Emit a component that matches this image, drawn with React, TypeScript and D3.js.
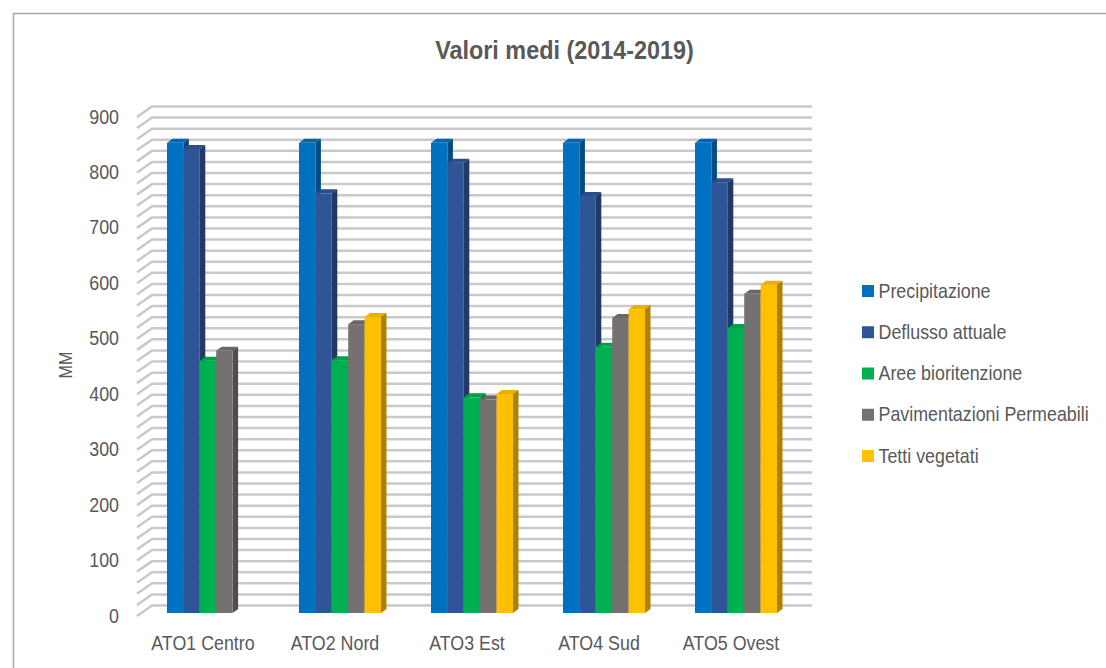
import React from 'react';
import * as d3 from 'd3';

const categories = ['ATO1 Centro', 'ATO2 Nord', 'ATO3 Est', 'ATO4 Sud', 'ATO5 Ovest'];
const seriesNames = ['Precipitazione', 'Deflusso attuale', 'Aree bioritenzione', 'Pavimentazioni Permeabili', 'Tetti vegetati'];
const precipitazione = [848, 848, 848, 848, 848];
const deflusso = [837, 757, 812, 752, 777];
const bioritenzione = [455, 456, 389, 480, 514];
const pavimentazioni = [473, 521, 385, 532, 576];
const tetti = [0, 534, 395, 548, 592];
const seriesValues = [precipitazione, deflusso, bioritenzione, pavimentazioni, tetti];
const colors = ['#0070c0', '#2f5597', '#00b050', '#767171', '#ffc000'];
const ticks = d3.range(0, 901, 100);
const gridTicks = d3.range(0, 901, 20);

const font = '"Liberation Sans", Arial, sans-serif';
const textColor = '#595959';

// front edge of the 3D floor/wall, bars stand a little behind it
const y = d3.scaleLinear().domain([0, 900]).range([616, 117]);
const x0 = d3.scaleBand().domain(categories).range([167, 777]).paddingInner(0.379).paddingOuter(0);
const x1 = d3.scaleBand().domain(seriesNames).range([0, x0.bandwidth()]);

const wallDx = 15;
const wallDy = 10.5;
const barInset = 3;
const barDx = 5.5;
const barDy = 4;

function shade(c: string, k: number) {
  return d3.rgb(c).darker(k).formatHex();
}

// no condensed font installed, so squeeze the regular one
function Label({ x, y, anchor = 'start', size = 21, sx = 0.85, weight = 'normal', children }: any) {
  return (
    <text
      transform={`translate(${x},${y}) scale(${sx},1)`}
      textAnchor={anchor}
      fontFamily={font}
      fontSize={size}
      fontWeight={weight}
      fill={textColor}
    >
      {children}
    </text>
  );
}

export default function App() {
  return (
    <svg width={1106} height={668} style={{ position: 'absolute', left: 0, top: 0, background: '#fff' }}>
      <path d="M13.5,668V13.5H1106" fill="none" stroke="#a6a6a6" strokeWidth={1.5} />
      <Label x={564.5} y={59} anchor="middle" size={26} sx={0.9} weight="bold">
        Valori medi (2014-2019)
      </Label>

      {gridTicks.map((t) => {
        const yy = y(t);
        return (
          <path
            key={t}
            d={`M137,${yy}L${137 + wallDx},${yy - wallDy}H812`}
            fill="none"
            stroke="#c9c9c9"
            strokeWidth={2.5}
          />
        );
      })}

      {ticks.map((t) => (
        <Label key={t} x={119} y={y(t) + 6.5} anchor="end">
          {t}
        </Label>
      ))}
      <g transform="translate(72,365) rotate(-90)">
        <Label x={0} y={0} anchor="middle" size={19}>
          MM
        </Label>
      </g>

      {categories.map((cat, i) => (
        <g key={cat}>
          {seriesNames.map((name, s) => {
            const v = seriesValues[s][i];
            if (!v) return null;
            const left = x0(cat)! + x1(name)!;
            const w = x1.bandwidth();
            const top = y(v) - barInset;
            const base = y(0) - barInset;
            const c = colors[s];
            return (
              <g key={name}>
                <path d={`M${left},${top}l${barDx},${-barDy}h${w}l${-barDx},${barDy}z`} fill={shade(c, 0.25)} />
                <path
                  d={`M${left + w},${top}l${barDx},${-barDy}V${base - barDy}l${-barDx},${barDy}z`}
                  fill={shade(c, 1.1)}
                />
                <rect x={left} y={top} width={w} height={base - top} fill={c} />
              </g>
            );
          })}
          <Label x={x0(cat)! + x0.bandwidth() / 2 - 5} y={650} anchor="middle">
            {cat}
          </Label>
        </g>
      ))}

      {seriesNames.map((name, s) => (
        <g key={name} transform={`translate(862,${291 + s * 41.25})`}>
          <rect x={0} y={-6} width={12} height={12} fill={colors[s]} />
          <Label x={16.5} y={6.5}>
            {name}
          </Label>
        </g>
      ))}
    </svg>
  );
}
